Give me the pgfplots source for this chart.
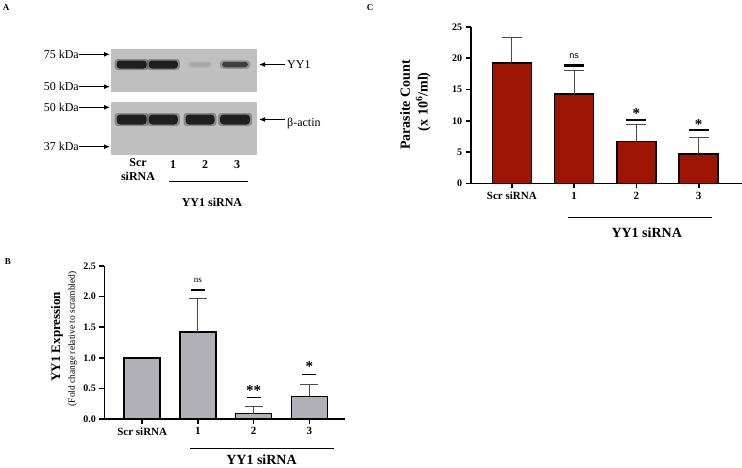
\documentclass[border=0pt]{standalone}
\usepackage{pgfplots}
\pgfplotsset{compat=1.18}
\usepackage{fontspec}
\setmainfont{Liberation Serif}
\newfontfamily\arial{Liberation Sans}
\usetikzlibrary{arrows.meta}
\definecolor{barB}{RGB}{176,176,182}
\definecolor{barC}{RGB}{158,20,2}
\definecolor{errc}{RGB}{75,75,75}
\definecolor{blotbg}{RGB}{192,192,192}
\pgfplotsset{mybar/.style={
  scale only axis, clip=false,
  axis x line=bottom, axis y line=left,
  axis line style={-, line width=1.6pt},
  tick align=outside, major tick length=5pt,
  every tick/.style={black, line width=1.6pt},
  xtick={0,1,2,3}, xticklabels={Scr siRNA,1,2,3},
  xticklabel style={font=\fontsize{11}{12}\selectfont\bfseries},
  yticklabel style={font=\fontsize{10}{12}\selectfont\bfseries},
  /pgf/number format/assume math mode=true,
  ymin=0, minor tick num=0,
}}
\begin{document}
\begin{tikzpicture}
\useasboundingbox (0,0) rectangle (742pt,-467pt);
% ---------------- Panel A (western blot) ----------------
\begin{scope}[x=1pt,y=-1pt]
\node[font=\fontsize{9}{10}\selectfont\bfseries] at (6,8) {A};
\fill[blotbg] (111,49) rectangle (257,92);
\fill[blotbg] (111,102) rectangle (257,155);
% YY1 bands
\foreach \cx/\w/\h/\c in {131.7/30/8/black!88, 163.3/29/8/black!88, 200/20/4/black!35, 235/26/5.5/black!75}{
  \fill[\c, opacity=0.35, rounded corners=3pt] (\cx-\w/2-2, 64.5-\h/2-1.5) rectangle (\cx+\w/2+2, 64.5+\h/2+1.5);
  \fill[\c, rounded corners=3pt] (\cx-\w/2, 64.5-\h/2) rectangle (\cx+\w/2, 64.5+\h/2);
}
% beta-actin bands
\foreach \cx/\w in {131.7/30, 163.3/29, 200/29, 235/30}{
  \fill[black!85, opacity=0.35, rounded corners=3pt] (\cx-\w/2-2, 119.5-6.5) rectangle (\cx+\w/2+2, 119.5+6.5);
  \fill[black!88, rounded corners=3.5pt] (\cx-\w/2, 119.5-5) rectangle (\cx+\w/2, 119.5+5);
}
\foreach \yy/\lab in {54.3/75 kDa, 86.7/50 kDa, 107.3/50 kDa, 146.7/37 kDa}{
  \node[anchor=east, font=\fontsize{12}{13}\selectfont, inner sep=0pt] at (79,\yy) {\lab};
  \draw[line width=1.2pt, -{Latex[length=6pt,width=5pt]}] (79,\yy) -- (110,\yy);
}
\draw[line width=1.2pt, -{Latex[length=6pt,width=5pt]}] (285,64.5) -- (259,64.5);
\draw[line width=1.2pt, -{Latex[length=6pt,width=5pt]}] (285,119.5) -- (259,119.5);
\node[anchor=west, font=\fontsize{12}{13}\selectfont, inner sep=0pt] at (287,64.5) {YY1};
\node[anchor=west, font=\fontsize{12}{13}\selectfont, inner sep=0pt] at (287,124) {β-actin};
\node[font=\fontsize{12}{13}\selectfont\bfseries] at (138,163) {Scr};
\node[font=\fontsize{12}{13}\selectfont\bfseries] at (138,176) {siRNA};
\node[font=\fontsize{12}{13}\selectfont\bfseries] at (173,165) {1};
\node[font=\fontsize{12}{13}\selectfont\bfseries] at (205,165) {2};
\node[font=\fontsize{12}{13}\selectfont\bfseries] at (237,165) {3};
\draw[line width=0.9pt] (169,181) -- (248,181);
\node[font=\fontsize{12}{13}\selectfont\bfseries] at (212,202) {YY1 siRNA};
% ---------------- Panel B labels ----------------
\node[font=\fontsize{9}{10}\selectfont\bfseries] at (8,262) {B};
\node[rotate=90, font=\fontsize{13}{14}\selectfont\bfseries] at (57,336.7) {YY1 Expression};
\node[rotate=90, font=\fontsize{9.5}{10}\selectfont] at (72.5,338.8) {(Fold change relative to scrambled)};
\draw[line width=0.9pt] (190,448) -- (334,448);
\node[font=\fontsize{14}{15}\selectfont\bfseries] at (261.5,460) {YY1 siRNA};
% ---------------- Panel C labels ----------------
\node[font=\fontsize{9}{10}\selectfont\bfseries] at (370,8) {C};
\node[rotate=90, font=\fontsize{14}{15}\selectfont\bfseries] at (405,105) {Parasite Count};
\node[rotate=90, font=\fontsize{14}{15}\selectfont\bfseries] at (423.3,101.7) {(x 10\textsuperscript{6}/ml)};
\draw[line width=0.9pt] (568,217.7) -- (711.7,217.7);
\node[font=\fontsize{14}{15}\selectfont\bfseries] at (646.7,233) {YY1 siRNA};
\end{scope}
% ---------------- Panel B axis ----------------
\begin{axis}[mybar, at={(104.3pt,-419pt)}, anchor=south west,
  width=240.7pt, height=153pt, xmin=-0.68, xmax=3.64, ymax=2.5,
  ytick={0,0.5,1,1.5,2,2.5},
  yticklabel style={/pgf/number format/fixed, /pgf/number format/fixed zerofill, /pgf/number format/precision=1}]
\addplot[ybar, bar shift=0pt, bar width=36pt, fill=barB, draw=black, line width=1.6pt]
  coordinates {(0,1.0)};
\addplot[ybar, bar shift=0pt, bar width=36pt, fill=barB, draw=black, line width=1.6pt,
  error bars/.cd, y dir=plus, y explicit, error mark=|,
  error bar style={line width=0.9pt, color=errc},
  error mark options={mark size=9pt, line width=0.9pt, color=errc}]
  coordinates {(1,1.42) +- (0,0.55) (2,0.09) +- (0,0.11) (3,0.37) +- (0,0.20)};
\draw[line width=1.5pt] (axis cs:0.875,2.11) -- (axis cs:1.125,2.11);
\draw[line width=1.5pt] (axis cs:1.875,0.35) -- (axis cs:2.125,0.35);
\draw[line width=1.5pt] (axis cs:2.875,0.73) -- (axis cs:3.125,0.73);
\node[font=\fontsize{9}{10}\selectfont] at (axis cs:1,2.27) {ns};
\node[font=\fontsize{15}{15}\selectfont\bfseries, yshift=-3pt] at (axis cs:2,0.52) {**};
\node[font=\fontsize{15}{15}\selectfont\bfseries, yshift=-3pt] at (axis cs:3,0.90) {*};
\end{axis}
% ---------------- Panel C axis ----------------
\begin{axis}[mybar, at={(470.7pt,-183.3pt)}, anchor=south west,
  width=271pt, height=156.3pt, xmin=-0.66, xmax=3.69, ymax=25,
  ytick={0,5,10,15,20,25}]
\addplot[ybar, bar shift=0pt, bar width=39pt, fill=barC, draw=black, line width=1.6pt,
  error bars/.cd, y dir=plus, y explicit, error mark=|,
  error bar style={line width=0.9pt, color=errc},
  error mark options={mark size=10pt, line width=0.9pt, color=errc}]
  coordinates {(0,19.2) +- (0,4.1) (1,14.3) +- (0,3.7) (2,6.7) +- (0,2.65) (3,4.7) +- (0,2.7)};
\draw[line width=2.4pt] (axis cs:0.84,18.85) -- (axis cs:1.16,18.85);
\draw[line width=2.4pt] (axis cs:1.84,10.15) -- (axis cs:2.16,10.15);
\draw[line width=2.4pt] (axis cs:2.84,8.5) -- (axis cs:3.16,8.5);
\node[font=\fontsize{9}{10}\selectfont\arial] at (axis cs:1,20.4) {ns};
\node[font=\fontsize{15}{15}\selectfont\bfseries, yshift=-3pt] at (axis cs:2,11.7) {*};
\node[font=\fontsize{15}{15}\selectfont\bfseries, yshift=-3pt] at (axis cs:3,9.9) {*};
\end{axis}
\end{tikzpicture}
\end{document}
